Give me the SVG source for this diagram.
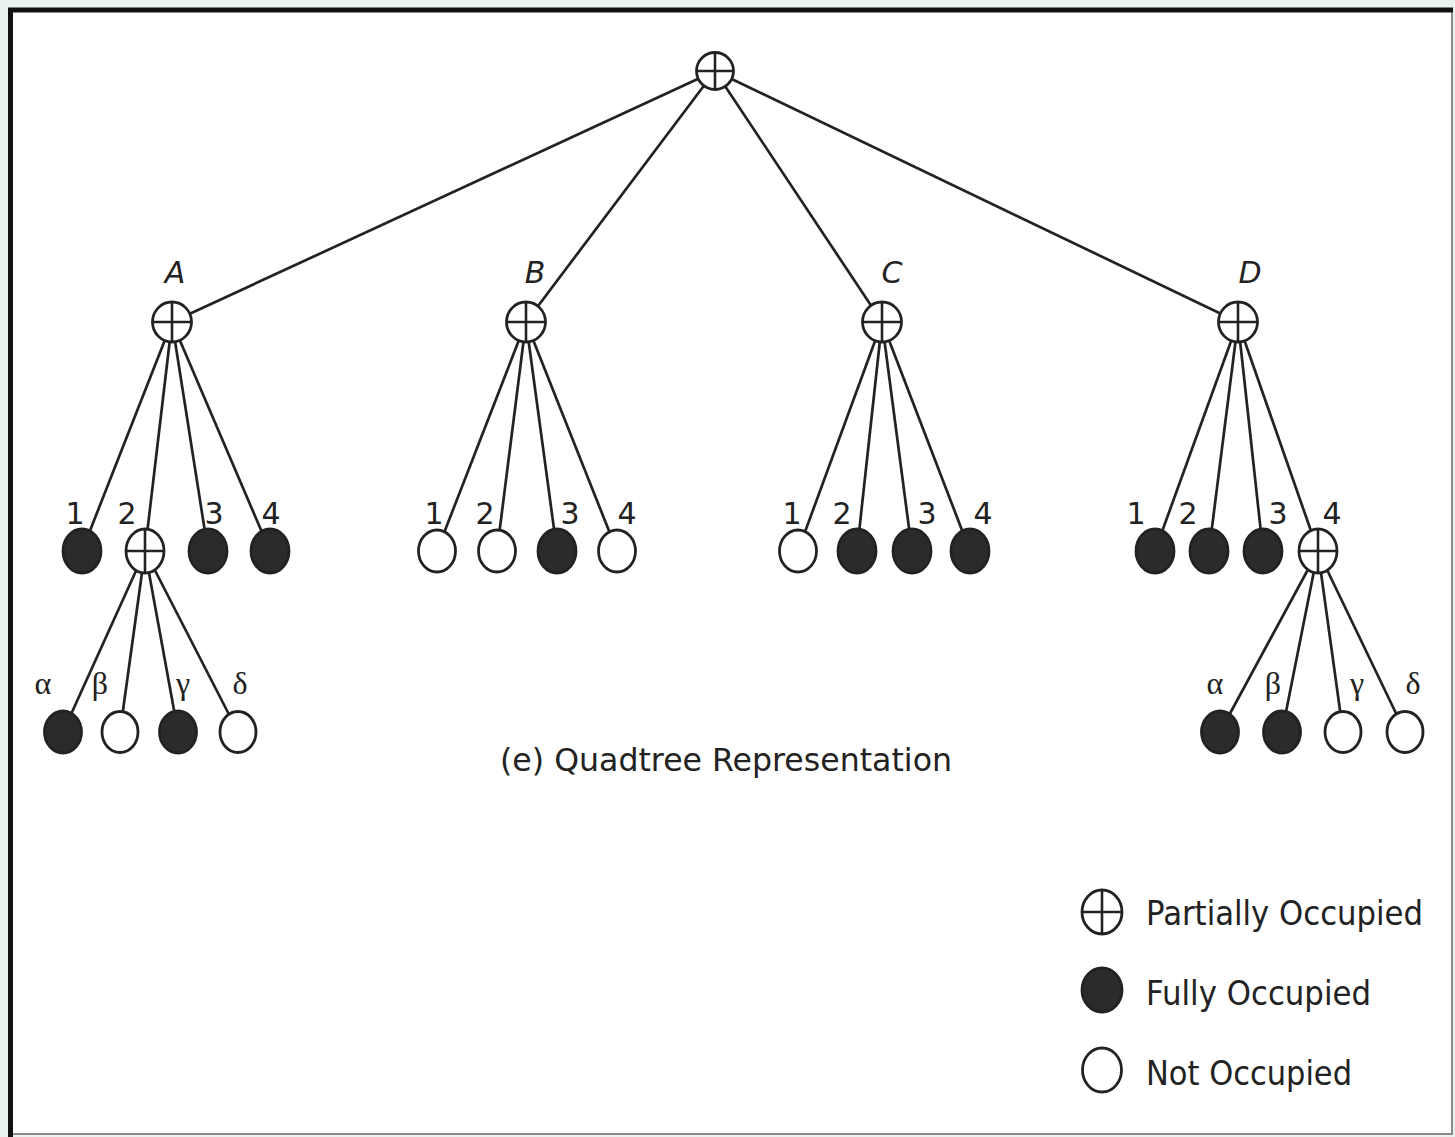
<svg xmlns="http://www.w3.org/2000/svg" width="1455" height="1137" viewBox="0 0 1455 1137">
  <defs>
    <style>
      .edge { stroke: #222; stroke-width: 2.7; fill: none; }
      .node { stroke: #222; stroke-width: 2.8; }
      .full { fill: #2b2b2b; }
      .empty { fill: #fff; }
      .partial { fill: #fff; }
      .cross { stroke: #222; stroke-width: 2.6; }
      .num { font-family: "DejaVu Sans", Verdana, sans-serif; font-size: 30px; fill: #222; text-anchor: middle; }
      .quad { font-family: "DejaVu Sans", Verdana, sans-serif; font-style: italic; font-size: 30px; fill: #222; text-anchor: middle; }
      .greek { font-family: "Liberation Serif", "Times New Roman", serif; font-size: 32px; fill: #222; text-anchor: middle; }
      .caption { font-family: "DejaVu Sans", Verdana, sans-serif; font-size: 32px; fill: #222; }
      .legend { font-family: "DejaVu Sans", Verdana, sans-serif; font-size: 33px; fill: #222; }
    </style>
  </defs>

  <!-- page and frame -->
  <rect x="0" y="0" width="1455" height="1137" fill="#e9f1f1"/>
  <rect x="10" y="10" width="1443" height="1125" fill="#fff"/>
  <path d="M1452,10 V1134 H10" stroke="#8a8a8a" stroke-width="2" fill="none"/>
  <path d="M10.5,1137 V10 H1453" stroke="#111" stroke-width="5" fill="none"/>

  <!-- connectors -->
  <g id="edges">
    <line class="edge" x1="715" y1="71" x2="172" y2="322"/>
    <line class="edge" x1="715" y1="71" x2="526" y2="322"/>
    <line class="edge" x1="715" y1="71" x2="882" y2="322"/>
    <line class="edge" x1="715" y1="71" x2="1238" y2="322"/>

    <line class="edge" x1="172" y1="322" x2="82" y2="551"/>
    <line class="edge" x1="172" y1="322" x2="145" y2="551"/>
    <line class="edge" x1="172" y1="322" x2="208" y2="551"/>
    <line class="edge" x1="172" y1="322" x2="270" y2="551"/>

    <line class="edge" x1="526" y1="322" x2="437" y2="551"/>
    <line class="edge" x1="526" y1="322" x2="497" y2="551"/>
    <line class="edge" x1="526" y1="322" x2="557" y2="551"/>
    <line class="edge" x1="526" y1="322" x2="617" y2="551"/>

    <line class="edge" x1="882" y1="322" x2="798" y2="551"/>
    <line class="edge" x1="882" y1="322" x2="857" y2="551"/>
    <line class="edge" x1="882" y1="322" x2="912" y2="551"/>
    <line class="edge" x1="882" y1="322" x2="970" y2="551"/>

    <line class="edge" x1="1238" y1="322" x2="1155" y2="551"/>
    <line class="edge" x1="1238" y1="322" x2="1209" y2="551"/>
    <line class="edge" x1="1238" y1="322" x2="1263" y2="551"/>
    <line class="edge" x1="1238" y1="322" x2="1318" y2="551"/>

    <line class="edge" x1="145" y1="551" x2="63" y2="732"/>
    <line class="edge" x1="145" y1="551" x2="120" y2="732"/>
    <line class="edge" x1="145" y1="551" x2="178" y2="732"/>
    <line class="edge" x1="145" y1="551" x2="238" y2="732"/>

    <line class="edge" x1="1318" y1="551" x2="1220" y2="732"/>
    <line class="edge" x1="1318" y1="551" x2="1282" y2="732"/>
    <line class="edge" x1="1318" y1="551" x2="1343" y2="732"/>
    <line class="edge" x1="1318" y1="551" x2="1405" y2="732"/>
  </g>

  <!-- root -->
  <g id="root">
    <ellipse class="node partial" cx="715" cy="71" rx="18.5" ry="18.5"/>
    <line class="cross" x1="696.5" y1="71" x2="733.5" y2="71"/>
    <line class="cross" x1="715" y1="52.5" x2="715" y2="89.5"/>
  </g>

  <!-- quadrants A-D -->
  <g id="nodeA">
    <text class="quad" x="175" y="283">A</text>
    <ellipse class="node partial" cx="172" cy="322" rx="19.5" ry="20"/>
    <line class="cross" x1="152.5" y1="322" x2="191.5" y2="322"/>
    <line class="cross" x1="172" y1="302" x2="172" y2="342"/>
  </g>
  <g id="nodeB">
    <text class="quad" x="535" y="283">B</text>
    <ellipse class="node partial" cx="526" cy="322" rx="19.5" ry="20"/>
    <line class="cross" x1="506.5" y1="322" x2="545.5" y2="322"/>
    <line class="cross" x1="526" y1="302" x2="526" y2="342"/>
  </g>
  <g id="nodeC">
    <text class="quad" x="892" y="283">C</text>
    <ellipse class="node partial" cx="882" cy="322" rx="19.5" ry="20"/>
    <line class="cross" x1="862.5" y1="322" x2="901.5" y2="322"/>
    <line class="cross" x1="882" y1="302" x2="882" y2="342"/>
  </g>
  <g id="nodeD">
    <text class="quad" x="1250" y="283">D</text>
    <ellipse class="node partial" cx="1238" cy="322" rx="19.5" ry="20"/>
    <line class="cross" x1="1218.5" y1="322" x2="1257.5" y2="322"/>
    <line class="cross" x1="1238" y1="302" x2="1238" y2="342"/>
  </g>

  <!-- children of A -->
  <g id="nodeA1">
    <text class="num" x="75" y="524">1</text>
    <ellipse class="node full" cx="82" cy="551" rx="19" ry="22"/>
  </g>
  <g id="nodeA2">
    <text class="num" x="127" y="524">2</text>
    <ellipse class="node partial" cx="145" cy="551" rx="19" ry="22"/>
    <line class="cross" x1="126" y1="551" x2="164" y2="551"/>
    <line class="cross" x1="145" y1="529" x2="145" y2="573"/>
  </g>
  <g id="nodeA3">
    <text class="num" x="214" y="524">3</text>
    <ellipse class="node full" cx="208" cy="551" rx="19" ry="22"/>
  </g>
  <g id="nodeA4">
    <text class="num" x="271" y="524">4</text>
    <ellipse class="node full" cx="270" cy="551" rx="19" ry="22"/>
  </g>

  <!-- children of B -->
  <g id="nodeB1">
    <text class="num" x="434" y="524">1</text>
    <ellipse class="node empty" cx="437" cy="551" rx="18.5" ry="21"/>
  </g>
  <g id="nodeB2">
    <text class="num" x="485" y="524">2</text>
    <ellipse class="node empty" cx="497" cy="551" rx="18.5" ry="21"/>
  </g>
  <g id="nodeB3">
    <text class="num" x="570" y="524">3</text>
    <ellipse class="node full" cx="557" cy="551" rx="19" ry="22"/>
  </g>
  <g id="nodeB4">
    <text class="num" x="627" y="524">4</text>
    <ellipse class="node empty" cx="617" cy="551" rx="18.5" ry="21"/>
  </g>

  <!-- children of C -->
  <g id="nodeC1">
    <text class="num" x="792" y="524">1</text>
    <ellipse class="node empty" cx="798" cy="551" rx="18.5" ry="21"/>
  </g>
  <g id="nodeC2">
    <text class="num" x="842" y="524">2</text>
    <ellipse class="node full" cx="857" cy="551" rx="19" ry="22"/>
  </g>
  <g id="nodeC3">
    <text class="num" x="927" y="524">3</text>
    <ellipse class="node full" cx="912" cy="551" rx="19" ry="22"/>
  </g>
  <g id="nodeC4">
    <text class="num" x="983" y="524">4</text>
    <ellipse class="node full" cx="970" cy="551" rx="19" ry="22"/>
  </g>

  <!-- children of D -->
  <g id="nodeD1">
    <text class="num" x="1136" y="524">1</text>
    <ellipse class="node full" cx="1155" cy="551" rx="19" ry="22"/>
  </g>
  <g id="nodeD2">
    <text class="num" x="1188" y="524">2</text>
    <ellipse class="node full" cx="1209" cy="551" rx="19" ry="22"/>
  </g>
  <g id="nodeD3">
    <text class="num" x="1278" y="524">3</text>
    <ellipse class="node full" cx="1263" cy="551" rx="19" ry="22"/>
  </g>
  <g id="nodeD4">
    <text class="num" x="1332" y="524">4</text>
    <ellipse class="node partial" cx="1318" cy="551" rx="19" ry="22"/>
    <line class="cross" x1="1299" y1="551" x2="1337" y2="551"/>
    <line class="cross" x1="1318" y1="529" x2="1318" y2="573"/>
  </g>

  <!-- children of A2 -->
  <g id="nodeA2a">
    <text class="greek" x="43" y="694">α</text>
    <ellipse class="node full" cx="63" cy="732" rx="18.5" ry="21"/>
  </g>
  <g id="nodeA2b">
    <text class="greek" x="100" y="694">β</text>
    <ellipse class="node empty" cx="120" cy="732" rx="18" ry="20.5"/>
  </g>
  <g id="nodeA2g">
    <text class="greek" x="183" y="694">γ</text>
    <ellipse class="node full" cx="178" cy="732" rx="18.5" ry="21"/>
  </g>
  <g id="nodeA2d">
    <text class="greek" x="240" y="694">δ</text>
    <ellipse class="node empty" cx="238" cy="732" rx="18" ry="20.5"/>
  </g>

  <!-- children of D4 -->
  <g id="nodeD4a">
    <text class="greek" x="1215" y="694">α</text>
    <ellipse class="node full" cx="1220" cy="732" rx="18.5" ry="21"/>
  </g>
  <g id="nodeD4b">
    <text class="greek" x="1273" y="694">β</text>
    <ellipse class="node full" cx="1282" cy="732" rx="18.5" ry="21"/>
  </g>
  <g id="nodeD4g">
    <text class="greek" x="1357" y="694">γ</text>
    <ellipse class="node empty" cx="1343" cy="732" rx="18" ry="20.5"/>
  </g>
  <g id="nodeD4d">
    <text class="greek" x="1413" y="694">δ</text>
    <ellipse class="node empty" cx="1405" cy="732" rx="18" ry="20.5"/>
  </g>

  <!-- caption -->
  <text class="caption" x="500" y="771" textLength="452" lengthAdjust="spacingAndGlyphs">(e) Quadtree Representation</text>

  <!-- legend -->
  <g id="legend">
    <ellipse class="node partial" cx="1102" cy="912" rx="20" ry="22"/>
    <line class="cross" x1="1082" y1="912" x2="1122" y2="912"/>
    <line class="cross" x1="1102" y1="890" x2="1102" y2="934"/>
    <text class="legend" x="1146" y="925" textLength="277" lengthAdjust="spacingAndGlyphs">Partially Occupied</text>

    <ellipse class="node full" cx="1102" cy="990" rx="20" ry="22"/>
    <text class="legend" x="1146" y="1005" textLength="225" lengthAdjust="spacingAndGlyphs">Fully Occupied</text>

    <ellipse class="node empty" cx="1102" cy="1070" rx="19.5" ry="22"/>
    <text class="legend" x="1146" y="1085" textLength="206" lengthAdjust="spacingAndGlyphs">Not Occupied</text>
  </g>
</svg>
